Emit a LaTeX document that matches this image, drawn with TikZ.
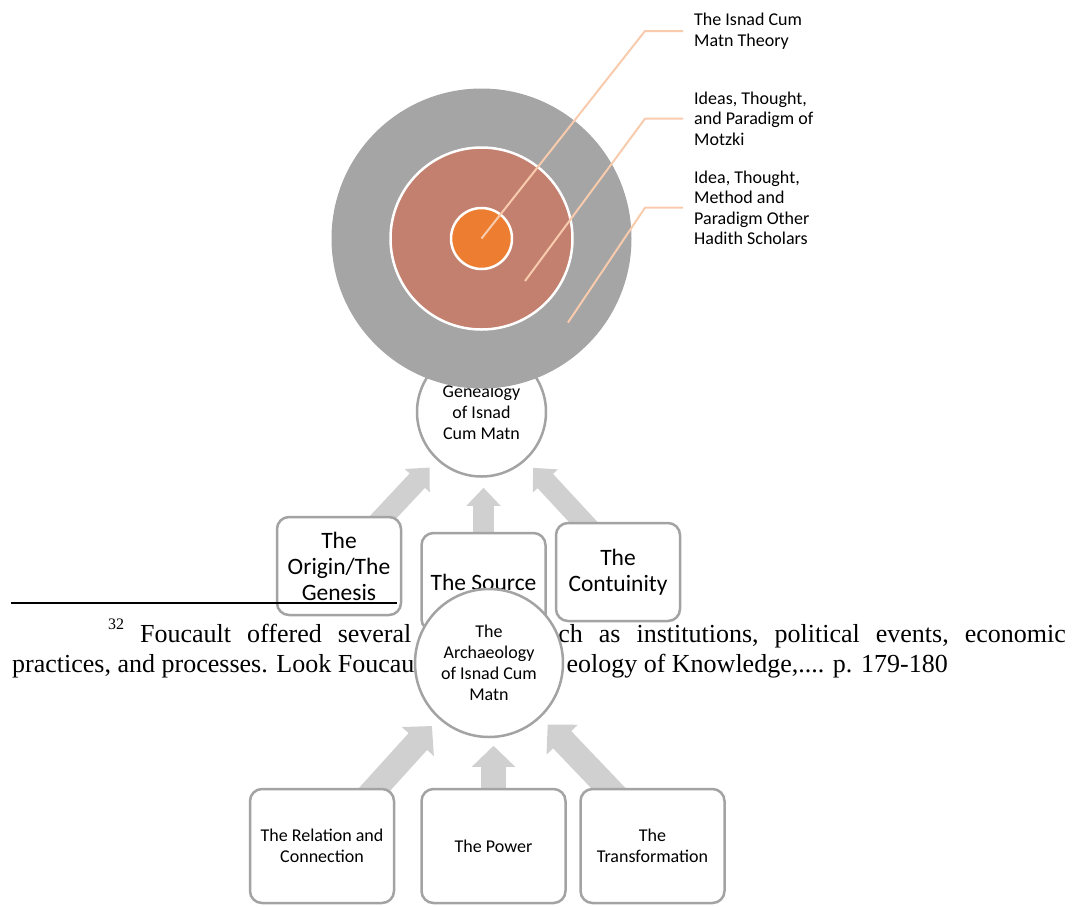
\documentclass[tikz,border=0pt]{standalone}
\usepackage{fontspec}
\setmainfont{Carlito}
\newfontfamily\notefont{Liberation Serif}
\usetikzlibrary{calc, arrows.meta}
\definecolor{ringgray}{HTML}{A5A5A5}
\definecolor{ringbrown}{HTML}{C4806F}
\definecolor{ringorange}{HTML}{ED7D31}
\definecolor{leadpeach}{HTML}{F8CBAD}
\definecolor{edgegray}{HTML}{A3A3A3}
\definecolor{arrowgray}{HTML}{D0D0D0}
\pgfdeclarelayer{back}
\pgfsetlayers{back,main}
\tikzset{
 box/.style = {
    rectangle, draw=edgegray, line width=2.5pt, fill=white,
    rounded corners=12pt,
    minimum width=124pt,
    minimum height=98pt,
    align=center, inner sep=2pt,
    font=\fontsize{23.5}{26}\selectfont},
 small box/.style = {
    box, minimum width=144pt, minimum height=114pt,
    font=\fontsize{18}{21}\selectfont},
 topic/.style = {
    circle, draw=edgegray, line width=2.5pt, fill=white,
    align=center, inner sep=0pt,
    font=\fontsize{18}{21}\selectfont},
 ring/.style = {
    circle, draw=white, line width=2.5pt, inner sep=0pt},
 fat arrow/.style = {
    draw=arrowgray, line width=21pt, -{Triangle[width=33pt,length=18pt]}},
 fatter arrow/.style = {
    draw=arrowgray, line width=25pt, -{Triangle[width=42pt,length=21pt]}},
 leader/.style = {
    draw=leadpeach, line width=2pt},
 ring label/.style = {
    anchor=west, align=left, inner xsep=11pt, inner ysep=0pt,
    font=\fontsize{18}{20.5}\selectfont},
 note/.style = {
    inner sep=0pt, font=\notefont\fontsize{26}{30}\selectfont},
}
\begin{document}
\begin{tikzpicture}[x=1pt, y=-1pt]
                            \useasboundingbox (0,0) rectangle (1077,906);

                            % Place nodes
                            \node [topic, minimum size=129pt] (geneal) at (481.5,412) {Genealogy\\of Isnad\\Cum Matn};
                            \node [box]  (origin)  at (339,566)   {The\\Origin/The\\Genesis};
                            \node [box]  (source)  at (483.5,582) {The Source};
                            \node [box]  (contin)  at (618,572)   {The\\Contuinity};

                        \coordinate (o-start) at ($(origin.north)+(45.5,0)$);
                        \coordinate (c-start) at ($(contin.north)+(-35,0)$);
                        \begin{pgfonlayer}{back}
                        \path [fat arrow] ($(o-start)!-15pt!(geneal.center)$) -- ($(geneal.center)!76pt!(o-start)$);
                        \path [fat arrow] ($(source.north)+(0,10)$) -- ($(source.north)+(0,-44)$);
                        \path [fat arrow] ($(c-start)!-15pt!(geneal.center)$) -- ($(geneal.center)!76pt!(c-start)$);
                        \end{pgfonlayer}

                        % footnote of the page
                        \draw [line width=2pt] (11,603) -- (397,603);
                        \node [note, anchor=base west, font=\notefont\fontsize{16}{16}\selectfont] (fn-mark) at (108,629) {32};
                        \node [note, anchor=base west] (fn-a) at (140,642) {\spaceskip=16pt\relax Foucault offered several};
                        \node [note, anchor=base east] (fn-b) at (1066,642) {\spaceskip=16pt\relax ch as institutions, political events, economic};
                        \node [note, anchor=base west] (fn-c) at (12,672) {practices, and processes. Look Foucau};
                        \node [note, anchor=base east] (fn-d) at (948,672) {eology of Knowledge,.... p. 179-180};

                            \node [topic, minimum size=148pt] (archae) at (489,663) {The\\Archaeology\\of Isnad Cum\\Matn};
                            \node [small box] (relation) at (322,846)   {The Relation and\\Connection};
                            \node [small box] (power)    at (493.5,846) {The Power};
                            \node [small box] (transf)   at (652.5,846) {The\\Transformation};

                        \coordinate (r-start) at ($(relation.north)+(54,0)$);
                        \coordinate (t-start) at ($(transf.north)+(-44.5,0)$);
                        \begin{pgfonlayer}{back}
                        \path [fatter arrow] ($(r-start)!-15pt!(archae.center)$) -- ($(archae.center)!85pt!(r-start)$);
                        \path [fatter arrow] ($(power.north)+(0,10)$) -- ($(power.north)+(0,-42)$);
                        \path [fatter arrow] ($(t-start)!-15pt!(archae.center)$) -- ($(archae.center)!85pt!(t-start)$);
                        \end{pgfonlayer}

                            % target rings
                            \node [ring, fill=ringgray, draw=none, minimum size=300pt] (outer) at (481.5,238.5) {};
                            \node [ring, fill=ringbrown, minimum size=182pt] (middle) at (outer.center) {};
                            \node [ring, fill=ringorange, minimum size=61pt]  (inner)  at (outer.center) {};

                            \node [ring label] (lab1) at (683,31)    {The Isnad Cum\\Matn Theory};
                            \node [ring label] (lab2) at (683,118.7) {Ideas, Thought,\\and Paradigm of\\Motzki};
                            \node [ring label] (lab3) at (683,207.7) {Idea, Thought,\\Method and\\Paradigm Other\\Hadith Scholars};

                        \path [leader] (inner.center) -- ($(lab1.west)+(-38,0)$) -- (lab1.west);
                        \path [leader] ($(outer.center)+(43.5,42.5)$) -- ($(lab2.west)+(-38,0)$) -- (lab2.west);
                        \path [leader] ($(outer.center)+(86.5,84)$) -- ($(lab3.west)+(-38,0)$) -- (lab3.west);

\end{tikzpicture}
\end{document}
